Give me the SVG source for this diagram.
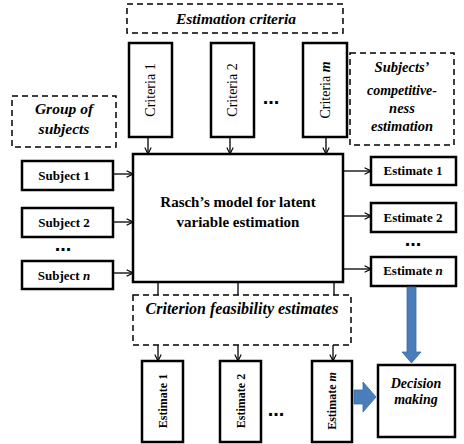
<svg xmlns="http://www.w3.org/2000/svg" width="464" height="444" viewBox="0 0 464 444" font-family="'Liberation Serif', 'DejaVu Serif', serif">
<defs>
<style>
.box{fill:#fff;stroke:#000;stroke-width:2.5}
.dash{fill:#fff;stroke:#000;stroke-width:1.5;stroke-dasharray:6 4}
.ln{fill:none;stroke:#000;stroke-width:1.3}
text{font-family:'Liberation Serif','DejaVu Serif',serif;fill:#000;text-anchor:middle}
.bi{font-weight:bold;font-style:italic}
.b{font-weight:bold}
.dots{font-weight:bold;font-size:20px;font-family:'Liberation Sans',sans-serif}
.blue{fill:#4a7ebb;stroke:#3a6aa5;stroke-width:0.8}
</style>
<marker id="ah" viewBox="0 0 10 10" refX="9" refY="5" markerWidth="8" markerHeight="8" markerUnits="userSpaceOnUse" orient="auto">
<path d="M1,1 L9,5 L1,9" fill="none" stroke="#000" stroke-width="1.4"/>
</marker>
</defs>
<rect width="464" height="444" fill="#fff"/>

<g id="estimation-criteria">
<rect class="dash" x="127" y="4" width="216" height="29"/>
<text class="bi" font-size="15.5" x="236" y="24">Estimation criteria</text>
</g>
<g id="group-of-subjects">
<rect class="dash" x="12" y="96" width="104" height="51"/>
<text class="bi" font-size="15.5" x="64" y="114">Group of</text>
<text class="bi" font-size="15.5" x="64" y="134">subjects</text>
</g>
<g id="competitiveness">
<rect class="dash" x="350" y="53" width="104" height="92"/>
<text class="bi" font-size="14.5" x="402" y="72">Subjects’</text>
<text class="bi" font-size="14" x="402" y="95">competitive-</text>
<text class="bi" font-size="14.5" x="402" y="113">ness</text>
<text class="bi" font-size="14.5" x="402" y="131">estimation</text>
</g>
<g id="feasibility">
<rect class="dash" x="133" y="295" width="218" height="50"/>
<text class="bi" font-size="16" x="242" y="314">Criterion feasibility estimates</text>
</g>

<g id="criteria-1">
<rect class="box" x="129" y="43" width="43" height="94"/>
<text font-size="14" transform="translate(155,90) rotate(-90)">Criteria 1</text>
</g>
<g id="criteria-2">
<rect class="box" x="211" y="43" width="43" height="94"/>
<text font-size="14" transform="translate(237,90) rotate(-90)">Criteria 2</text>
</g>
<g id="criteria-m">
<rect class="box" x="303" y="43" width="44" height="94"/>
<text font-size="14" transform="translate(330,90) rotate(-90)">Criteria <tspan font-style="italic" font-weight="bold">m</tspan></text>
</g>
<text class="dots" x="271" y="104">...</text>

<g id="rasch-model">
<rect class="box" x="133" y="154" width="210" height="128"/>
<text class="b" font-size="15" x="238" y="207">Rasch’s model for latent</text>
<text class="b" font-size="15" x="238" y="227">variable estimation</text>
</g>

<g id="subject-1">
<rect class="box" x="22" y="161" width="91" height="29"/>
<text class="b" font-size="13" x="64" y="180">Subject 1</text>
</g>
<g id="subject-2">
<rect class="box" x="22" y="208" width="91" height="29"/>
<text class="b" font-size="13" x="64" y="227">Subject 2</text>
</g>
<text class="dots" x="63" y="251">...</text>
<g id="subject-n">
<rect class="box" x="22" y="261" width="91" height="28"/>
<text class="b" font-size="13" x="64" y="280">Subject <tspan font-style="italic">n</tspan></text>
</g>

<g id="estimate-1">
<rect class="box" x="371" y="157" width="85" height="28"/>
<text class="b" font-size="13" x="413" y="175">Estimate 1</text>
</g>
<g id="estimate-2">
<rect class="box" x="371" y="203" width="85" height="29"/>
<text class="b" font-size="13" x="413" y="222">Estimate 2</text>
</g>
<text class="dots" x="413" y="246">...</text>
<g id="estimate-n">
<rect class="box" x="371" y="257" width="85" height="29"/>
<text class="b" font-size="13" x="413" y="275">Estimate <tspan font-style="italic">n</tspan></text>
</g>

<g id="bottom-estimate-1">
<rect class="box" x="142" y="361" width="41" height="81"/>
<text class="b" font-size="12" transform="translate(167,401) rotate(-90)">Estimate 1</text>
</g>
<g id="bottom-estimate-2">
<rect class="box" x="220" y="361" width="41" height="81"/>
<text class="b" font-size="12" transform="translate(245,401) rotate(-90)">Estimate 2</text>
</g>
<text class="dots" x="276" y="416">...</text>
<g id="bottom-estimate-m">
<rect class="box" x="312" y="361" width="40" height="81"/>
<text class="b" font-size="12" transform="translate(336,401) rotate(-90)">Estimate <tspan font-style="italic">m</tspan></text>
</g>

<g id="decision-making">
<rect class="box" x="378" y="365" width="77" height="72"/>
<text class="bi" font-size="14" x="416" y="388">Decision</text>
<text class="bi" font-size="14" x="416" y="404">making</text>
</g>

<g id="connectors">
<line class="ln" x1="148" y1="137" x2="148" y2="154" marker-end="url(#ah)"/>
<line class="ln" x1="230" y1="137" x2="230" y2="154" marker-end="url(#ah)"/>
<line class="ln" x1="326" y1="137" x2="326" y2="154" marker-end="url(#ah)"/>
<line class="ln" x1="113" y1="174" x2="133" y2="174" marker-end="url(#ah)"/>
<line class="ln" x1="113" y1="222" x2="133" y2="222" marker-end="url(#ah)"/>
<line class="ln" x1="113" y1="273" x2="133" y2="273" marker-end="url(#ah)"/>
<line class="ln" x1="343" y1="171" x2="371" y2="171" marker-end="url(#ah)"/>
<line class="ln" x1="343" y1="216" x2="371" y2="216" marker-end="url(#ah)"/>
<line class="ln" x1="343" y1="269" x2="371" y2="269" marker-end="url(#ah)"/>
<line class="ln" x1="158" y1="282" x2="158" y2="295"/>
<line class="ln" x1="238" y1="282" x2="238" y2="295"/>
<line class="ln" x1="334" y1="282" x2="334" y2="295"/>
<line class="ln" x1="158" y1="345" x2="158" y2="361" marker-end="url(#ah)"/>
<line class="ln" x1="238" y1="345" x2="238" y2="361" marker-end="url(#ah)"/>
<line class="ln" x1="333" y1="345" x2="333" y2="361" marker-end="url(#ah)"/>
<path class="blue" d="M407,287 L416,287 L416,352 L421,352 L411.5,363 L402,352 L407,352 Z"/>
<path class="blue" d="M354,390 L363,390 L363,382 L376,397 L363,412 L363,404 L354,404 Z"/>
</g>
</svg>
